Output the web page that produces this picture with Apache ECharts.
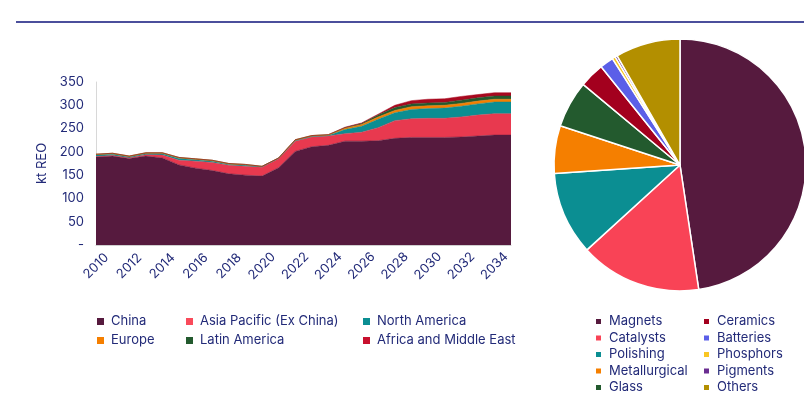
<!DOCTYPE html>
<html><head><meta charset="utf-8">
<script src="https://cdn.jsdelivr.net/npm/echarts@6/dist/echarts.min.js"></script>
<style>html,body{margin:0;padding:0;background:#fff}#c{width:804px;height:394px}</style>
</head><body><div id="c"></div>
<script>
const years = ['2010','2011','2012','2013','2014','2015','2016','2017','2018','2019','2020','2021','2022','2023','2024','2025','2026','2027','2028','2029','2030','2031','2032','2033','2034','2035'];
const china   = [189,191,186,191,187,172,165,160,153,150,148,166,201,211,214,223,223,224,229,231,231,231,232,234,236,236];
const asiaPac = [1,1,1,3,6,10,15,17,18,19,19,19,22,21,20,16,19,28,38,40,41,41,43,45,46,46];
const northAm = [3,3,2,2,3,4,3,3,2,2,1,1,1,1,1,9,13,18,17,20,21,22,23,24,25,25];
const europe  = [2,2,2,2,2,2,2,2,2,2,1,1,2,2,2,3,4,5,5,6,6,6,6,6,6,6];
const latAm   = [0,0,0,0,0,0,0,0,0,0,0,0,0,0,0,1,2,4,6,6,6,6,7,7,7,7];
const afrME   = [0,0,0,0,0,0,0,0,0,0,0,0,0,0,0,1,1,2,5,7,8,8,8,7,7,7];
const yTicks = [0,50,100,150,200,250,300,350];

const pieNames  = ['Magnets','Catalysts','Polishing','Metallurgical','Glass','Ceramics','Batteries','Phosphors','Pigments','Others'];
const pieValues = [47.6,15.6,10.7,6.1,6.0,3.2,1.75,0.4,0.3,8.3];

const regionNames = ['China','Asia Pacific (Ex China)','North America','Europe','Latin America','Africa and Middle East'];
const regionColors = ['#561a3e','#e8394f','#0b8e92','#f57f00','#235a2e','#a8081f'];
const regionLegendColors = ['#561a3e','#f94a5a','#0b8e92','#f57f00','#235a2e','#c8102e'];
const pieColors = ['#561a3e','#f94356','#0b8e92','#f57f00','#235a2e','#a3001e','#5b5fe8','#f9c623','#6a2d91','#b38f00'];

const txt = '#222a78';
const font = 'Inter';
const regionData = [china, asiaPac, northAm, europe, latAm, afrME];

const chart = echarts.init(document.getElementById('c'), null, {renderer:'canvas'});

function legend(names, left, top, gap){
  return {
    orient:'vertical', left:left, top:top, itemGap:gap, data:names, padding:0,
    icon:'rect', itemWidth:7, itemHeight:7,
    textStyle:{color:txt, fontSize:13, fontFamily:font, padding:[0,0,0,2]},
    selectedMode:false
  };
}

const series = regionNames.map((n,i)=>({
  name:n, type:'line', stack:'total', data:regionData[i], symbol:'none',
  lineStyle:{width:0.5, color:regionColors[i]},
  itemStyle:{color:regionLegendColors[i]},
  areaStyle:{color:regionColors[i], opacity:1},
  emphasis:{disabled:true}
}));

series.push({
  type:'pie', center:[680,165], radius:[0,126], startAngle:90, clockwise:true,
  label:{show:false}, labelLine:{show:false},
  itemStyle:{borderColor:'#fff', borderWidth:1.5},
  data:pieNames.map((n,i)=>({name:n, value:pieValues[i], itemStyle:{color:pieColors[i]}})),
  emphasis:{disabled:true}
});

chart.setOption({
  animation:false,
  textStyle:{fontFamily:font},
  graphic:[{type:'line', shape:{x1:16,y1:22,x2:804,y2:22}, style:{stroke:'#4b4f9c', lineWidth:2}}],
  legend:[
    legend(['China','Europe'], 97, 315, 6),
    legend(['Asia Pacific (Ex China)','Latin America'], 186, 315, 6),
    legend(['North America','Africa and Middle East'], 363, 315, 6),
    legend(['Magnets','Catalysts','Polishing','Metallurgical','Glass'], 594, 315, 3.5),
    legend(['Ceramics','Batteries','Phosphors','Pigments','Others'], 702, 315, 3.5)
  ],
  grid:{left:96, right:293, top:82, bottom:149, containLabel:false},
  xAxis:{
    type:'category', data:years, boundaryGap:false,
    axisLine:{show:true, lineStyle:{color:'#d0d0d0'}},
    axisTick:{show:false},
    axisLabel:{interval:1, rotate:45, align:'center', verticalAlign:'middle', color:txt, fontSize:13, fontFamily:font, margin:21}
  },
  yAxis:{
    type:'value', min:0, max:350, interval:50,
    name:'kt REO', nameLocation:'middle', nameGap:42,
    nameTextStyle:{color:txt, fontSize:13, fontFamily:font},
    axisLine:{show:true, lineStyle:{color:'#d8d8d8'}},
    axisTick:{show:false}, splitLine:{show:false},
    axisLabel:{color:txt, fontSize:13, fontFamily:font, margin:12,
      formatter:v=> yTicks.includes(v) ? (v===0?'-':String(v)) : ''}
  },
  series:series
});
</script></body></html>
